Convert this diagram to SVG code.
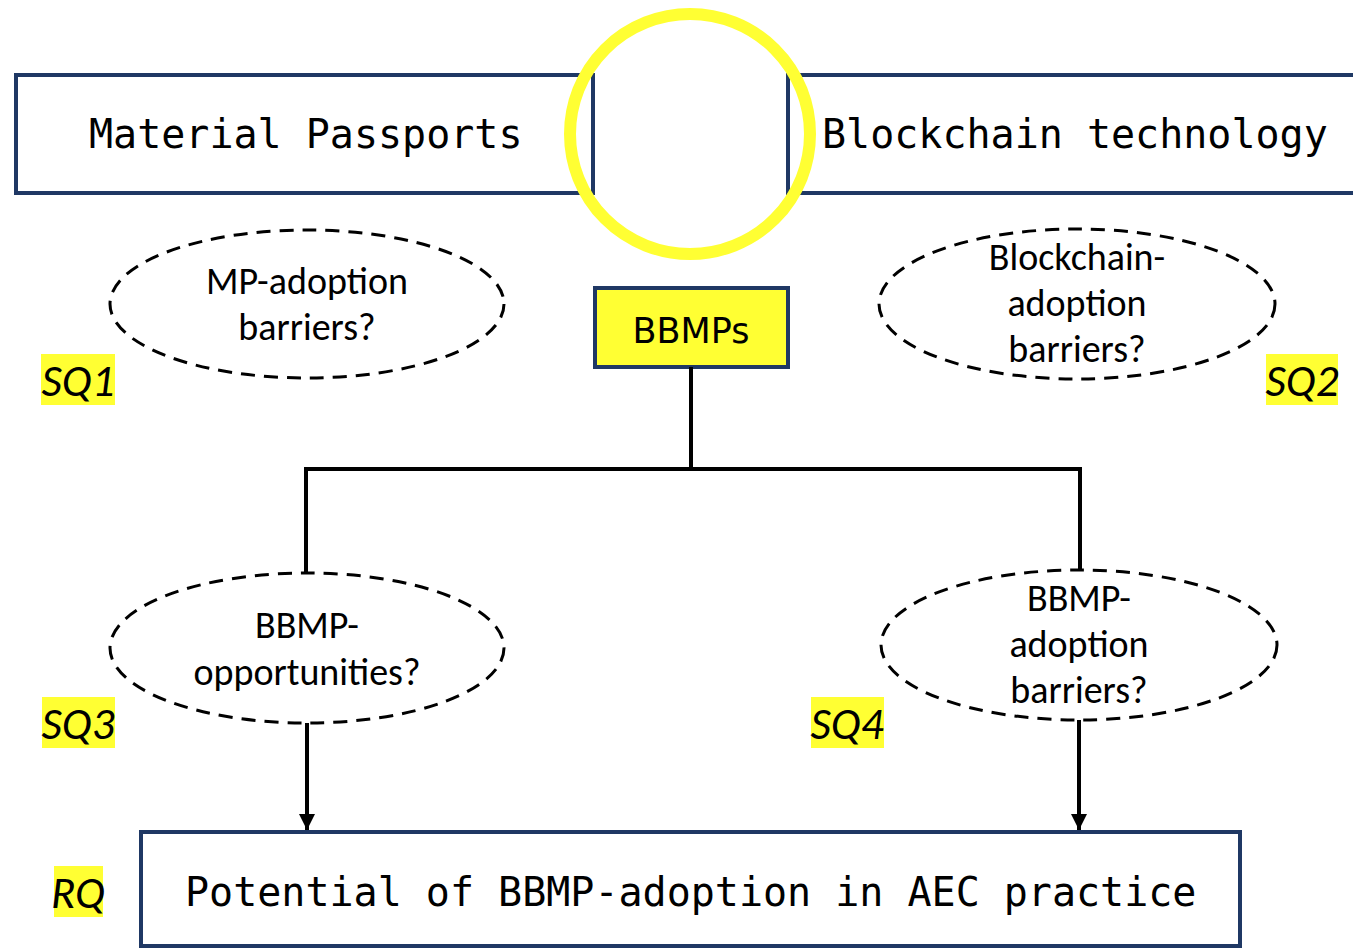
<svg xmlns="http://www.w3.org/2000/svg" width="1353" height="949" viewBox="0 0 1353 949">
<defs>
<style>
.box{fill:#fff;stroke:#1F3864;stroke-width:4}
.mono{font-family:"DejaVu Sans Mono","Liberation Mono",monospace;font-size:40px;fill:#000}
.sans{font-family:Carlito,"Open Sans","Liberation Sans",sans-serif;font-size:38px;fill:#000;text-anchor:middle}
.oval{fill:none;stroke:#000;stroke-width:3;stroke-dasharray:14 9}
.hl{fill:#FFFF33}
.sq{font-family:Carlito,"Open Sans","Liberation Sans",sans-serif;font-style:italic;font-size:45px;fill:#000;text-anchor:middle}
.line{fill:none;stroke:#000;stroke-width:4}
</style>
<marker id="arr" viewBox="0 0 10 10" refX="10" refY="5" markerWidth="4" markerHeight="4" markerUnits="strokeWidth" orient="auto">
<path d="M0,0 L10,5 L0,10 Z" fill="#000"/>
</marker>
</defs>
<rect width="1353" height="949" fill="#fff"/>
<g id="mp">
<rect class="box" x="16" y="75" width="577" height="118"/>
<text class="mono" x="89" y="148">Material Passports</text>
</g>
<g id="bt">
<path class="box" d="M1360,75 H788 V193 H1360"/>
<text class="mono" x="822" y="148">Blockchain technology</text>
</g>
<g id="highlight-circle">
<ellipse cx="690" cy="134" rx="120" ry="120" fill="none" stroke="#FFFF33" stroke-width="12"/>
</g>
<g id="bbmps">
<rect x="595" y="288" width="193" height="79" fill="#FFFF33" stroke="#1F3864" stroke-width="4"/>
<text x="691" y="343" font-family="'DejaVu Sans',Verdana,sans-serif" font-size="35" text-anchor="middle" fill="#000">BBMPs</text>
</g>
<g id="connectors">
<path class="line" d="M691,367 V469 M306,573 V469 H1080 V570"/>
<path class="line" d="M307,723 V830" marker-end="url(#arr)"/>
<path class="line" d="M1079,720 V830" marker-end="url(#arr)"/>
</g>
<g id="sq1-oval">
<ellipse class="oval" cx="307" cy="304" rx="197" ry="74"/>
<text class="sans" x="307" y="294">MP-adoption</text>
<text class="sans" x="307" y="340">barriers?</text>
</g>
<g id="sq2-oval">
<ellipse class="oval" cx="1077" cy="304" rx="198" ry="75"/>
<text class="sans" x="1077" y="270">Blockchain-</text>
<text class="sans" x="1077" y="316">adoption</text>
<text class="sans" x="1077" y="362">barriers?</text>
</g>
<g id="sq3-oval">
<ellipse class="oval" cx="307" cy="648" rx="197" ry="75"/>
<text class="sans" x="307" y="638">BBMP-</text>
<text class="sans" x="307" y="685">opportunities?</text>
</g>
<g id="sq4-oval">
<ellipse class="oval" cx="1079" cy="645" rx="198" ry="75"/>
<text class="sans" x="1079" y="611">BBMP-</text>
<text class="sans" x="1079" y="657">adoption</text>
<text class="sans" x="1079" y="703">barriers?</text>
</g>
<g id="rq-box">
<rect class="box" x="141" y="832" width="1099" height="114"/>
<text class="mono" x="185" y="906">Potential of BBMP-adoption in AEC practice</text>
</g>
<g id="sq1-label">
<rect class="hl" x="41" y="354" width="74" height="51"/>
<text class="sq" x="78" y="396">SQ1</text>
</g>
<g id="sq2-label">
<rect class="hl" x="1266" y="354" width="72" height="51"/>
<text class="sq" x="1302" y="396">SQ2</text>
</g>
<g id="sq3-label">
<rect class="hl" x="42" y="697" width="73" height="51"/>
<text class="sq" x="78" y="739">SQ3</text>
</g>
<g id="sq4-label">
<rect class="hl" x="811" y="697" width="73" height="51"/>
<text class="sq" x="847" y="739">SQ4</text>
</g>
<g id="rq-label">
<rect class="hl" x="54" y="866" width="49" height="51"/>
<text class="sq" x="78" y="908">RQ</text>
</g>
</svg>
